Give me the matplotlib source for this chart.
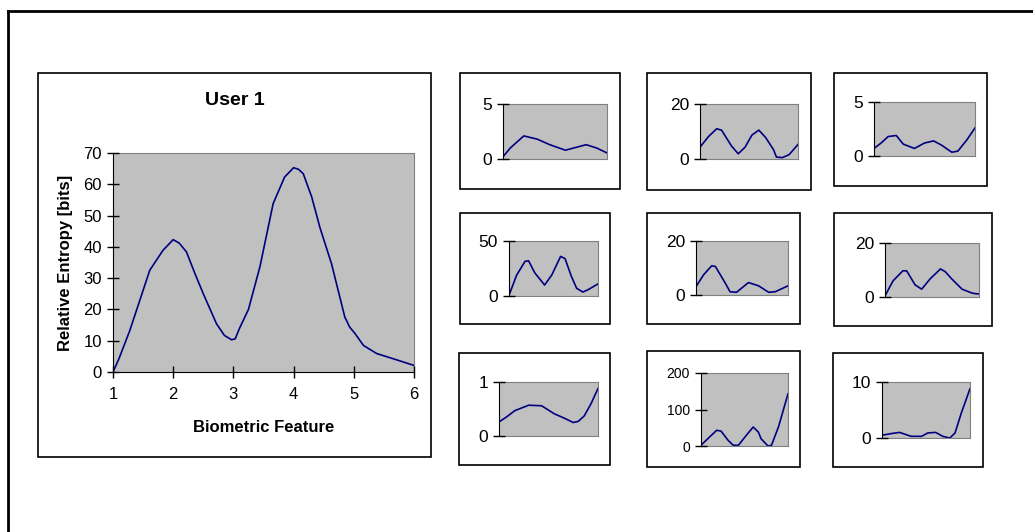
import numpy as np
import matplotlib
matplotlib.use("Agg")
import matplotlib.pyplot as plt
from matplotlib.patches import Rectangle
from matplotlib.lines import Line2D

plt.rcParams['font.family'] = ['Liberation Sans', 'DejaVu Sans']

W, H = 1033, 532

# main chart: User 1
main_x = [1.0, 1.1, 1.28, 1.61, 1.83, 2.0, 2.1, 2.22, 2.35, 2.5, 2.72, 2.85, 2.97, 3.03,
          3.1, 3.25, 3.44, 3.66, 3.85, 4.0, 4.08, 4.16, 4.3, 4.44, 4.63, 4.85, 4.93,
          5.02, 5.16, 5.38, 5.71, 6.0]
main_y = [0, 4.3, 13.3, 32.5, 38.9, 42.3, 41.2, 38.4, 32, 25, 15.4, 11.7, 10.3, 10.6,
          13.9, 20, 33.6, 53.8, 62.3, 65.3, 64.8, 63.4, 56, 46, 34.6, 17.6, 14.4,
          12.3, 8.5, 5.9, 3.9, 2.1]
main_yticks = [0, 10, 20, 30, 40, 50, 60, 70]
main_xticks = [1, 2, 3, 4, 5, 6]

# small charts (position along feature axis 0..1, value)
s1_x = [0, .07, .2, .33, .45, .6, .8, .9, 1]
s1_y = [0.2, 1.0, 2.1, 1.8, 1.3, 0.8, 1.3, 1.0, 0.55]
s2_x = [0, .085, .17, .22, .32, .39, .46, .53, .6, .67, .75, .78, .84, .91, 1]
s2_y = [4.3, 8.1, 11, 10.5, 4.8, 1.9, 4.3, 8.7, 10.5, 7.8, 3.4, 0.7, 0.5, 1.6, 5.3]
s3_x = [0, .07, .14, .22, .29, .4, .5, .59, .67, .77, .83, .92, 1]
s3_y = [0.7, 1.2, 1.8, 1.9, 1.1, 0.7, 1.2, 1.4, 1.0, 0.35, 0.45, 1.5, 2.6]
s4_x = [0, .086, .18, .22, .29, .4, .48, .58, .63, .7, .76, .83, .89, 1]
s4_y = [0.6, 19, 31.5, 32, 21, 10, 19, 36, 34, 18, 7, 3.6, 5.8, 11]
s5_x = [0, .083, .17, .21, .32, .37, .44, .57, .68, .79, .86, 1]
s5_y = [3.1, 7.5, 10.8, 10.6, 4.3, 1.2, 1.0, 4.6, 3.4, 1.0, 1.2, 3.4]
s6_x = [0, .086, .19, .23, .32, .39, .48, .59, .64, .71, .82, .93, 1]
s6_y = [0.4, 6, 9.7, 9.7, 4.5, 2.9, 6.7, 10.4, 9.4, 6.7, 2.9, 1.4, 1.1]
s7_x = [0, .074, .16, .3, .43, .56, .66, .75, .8, .86, .93, 1]
s7_y = [0.26, 0.35, 0.47, 0.57, 0.56, 0.41, 0.33, 0.25, 0.27, 0.37, 0.6, 0.88]
s8_x = [0, .1, .18, .23, .31, .37, .43, .52, .6, .66, .69, .77, .81, .89, 1]
s8_y = [2, 25, 43, 41, 16, 2, 2, 29, 52, 38, 20, 0, 2, 52, 143]
s9_x = [0, .11, .2, .33, .45, .52, .61, .69, .77, .83, .9, 1]
s9_y = [0.5, 0.8, 1.0, 0.3, 0.3, 0.9, 1.0, 0.3, 0, 0.9, 4.4, 8.8]

small_data = [(s1_x, s1_y, [0, 5]), (s2_x, s2_y, [0, 20]), (s3_x, s3_y, [0, 5]),
              (s4_x, s4_y, [0, 50]), (s5_x, s5_y, [0, 20]), (s6_x, s6_y, [0, 20]),
              (s7_x, s7_y, [0, 1]), (s8_x, s8_y, [0, 100, 200]), (s9_x, s9_y, [0, 10])]

# layout in pixels: (box), (plot area)
small_boxes = [(460, 73, 620, 189), (647, 73, 811, 190), (834, 73, 987, 186),
               (460, 213, 610, 324), (647, 213, 800, 324), (834, 213, 992, 326),
               (459, 353, 610, 465), (647, 351, 800, 467), (833, 353, 983, 467)]
small_plots = [(503, 104, 607, 159), (700, 104, 798, 159), (874, 102, 975, 156),
               (509, 241, 598, 296), (696, 241, 788, 295), (885, 243, 979, 297),
               (499, 382, 598, 436), (701, 373, 788, 446), (882, 382, 970, 438)]

LINE = '#000080'
FACE = '#c0c0c0'
EDGE = '#808080'


def frac(x0, y0, x1, y1):
    return [x0 / W, 1 - y1 / H, (x1 - x0) / W, (y1 - y0) / H]


def box(fig, x0, y0, x1, y1):
    fig.patches.append(Rectangle((x0 / W, 1 - y1 / H), (x1 - x0) / W, (y1 - y0) / H,
                                 transform=fig.transFigure, fill=False,
                                 edgecolor='black', linewidth=1.2, zorder=0))


def style_axes(ax):
    ax.set_facecolor(FACE)
    for s in ['top', 'right', 'bottom']:
        ax.spines[s].set_color(EDGE)
    ax.spines['left'].set_color('black')
    ax.spines['left'].set_zorder(5)
    ax.yaxis.set_zorder(6)
    ax.xaxis.set_zorder(6)


fig = plt.figure(figsize=(W / 100, H / 100), dpi=100)

# outer frame
fig.lines.append(Line2D([8 / W, 1], [1 - 11 / H, 1 - 11 / H], transform=fig.transFigure,
                        color='black', linewidth=2))
fig.lines.append(Line2D([8 / W, 8 / W], [0, 1 - 11 / H], transform=fig.transFigure,
                        color='black', linewidth=2))

# main chart
box(fig, 38, 73, 431, 457)
ax = fig.add_axes(frac(113, 153, 414, 372))
style_axes(ax)
ax.spines['bottom'].set_color('black')
ax.spines['bottom'].set_zorder(5)
ax.plot(main_x, main_y, color=LINE, linewidth=1.2)
ax.set_xlim(1, 6)
ax.set_ylim(0, 70)
ax.set_yticks(main_yticks)
ax.set_xticks(main_xticks)
ax.tick_params(direction='inout', length=8, width=1, labelsize=12, color='black')
ax.tick_params(axis='y', pad=4)
ax.tick_params(axis='x', pad=7)
ax.set_xlabel('Biometric Feature', fontsize=12, fontweight='bold')
ax.set_ylabel('Relative Entropy [bits]', fontsize=12, fontweight='bold')
ax.yaxis.set_label_coords(-0.133, 0.5)
ax.xaxis.set_label_coords(0.5, -0.219)
ax.text(0.405, 1.242, 'User 1', transform=ax.transAxes, ha='center', va='center',
        fontsize=14, fontweight='bold')

# small charts
for (xs, ys, ticks), b, p in zip(small_data, small_boxes, small_plots):
    box(fig, *b)
    a = fig.add_axes(frac(*p))
    style_axes(a)
    a.plot(xs, ys, color=LINE, linewidth=1.2)
    a.set_xlim(0, 1)
    a.set_ylim(ticks[0], ticks[-1])
    a.set_yticks(ticks)
    a.set_xticks([])
    fs = 10 if ticks[-1] >= 100 else 12.5
    a.tick_params(axis='y', direction='inout', length=8, width=1, labelsize=fs, pad=4,
                  color='black')

fig.savefig('out.png', dpi=100)
